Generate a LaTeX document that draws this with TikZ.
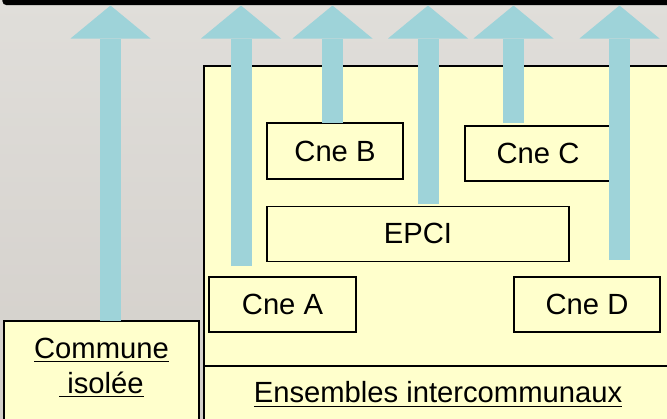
\documentclass[tikz,border=0pt]{standalone}
\usepackage{fontspec}
\setmainfont{Liberation Sans}
\usepackage{xcolor}
\usetikzlibrary{arrows.meta,positioning}
\definecolor{fondhaut}{RGB}{224,222,218}
\definecolor{fondbas}{RGB}{211,207,202}
\definecolor{jaune}{RGB}{255,255,204}
\definecolor{bleuflux}{RGB}{158,211,217}
\newcommand{\souligne}[1]{\vtop{\hbox{#1}\kern1.3pt\hrule height 0.7pt}}

\begin{document}
\begin{tikzpicture}[
    x=0.5pt, y=-0.5pt,
    zone/.style={rectangle, draw=black, line width=0.65pt, fill=jaune, inner sep=0pt, font=\fontsize{14.6}{17.5}\selectfont},
    cne/.style={zone, minimum height=27.5pt},
    fleche/.style={line width=10.5pt, draw=bleuflux, -{Triangle[width=40pt, length=16.5pt, line width=0pt]}}
]

% Fond et bandeau
\useasboundingbox (0,0) rectangle (667,418);
\path[clip] (0,0) rectangle (667,418);
\shade[top color=fondhaut, bottom color=fondbas] (0,0) rectangle (667,418);
\node[fill=black, rounded corners=2pt, minimum width=340pt, minimum height=6pt, inner sep=0pt, anchor=south west] (bandeau) at (2,5.5) {};

% Zones
\node[zone, minimum width=234pt, minimum height=178.5pt] (intercom) at (438,244.5) {};
\node[zone, minimum width=234pt, minimum height=28.5pt] (ensembles) at (438,394.5) {\souligne{Ensembles intercommunaux}};
\node[zone, minimum width=97.5pt, minimum height=50pt, align=center] (commune) at (101.5,371) {\souligne{Commune}\\\souligne{\ isolée}\rule[-5.6pt]{0pt}{5.6pt}};

% Communes et EPCI
\node[cne, minimum width=68pt, minimum height=28pt] (cneb) at (335,151) {Cne B};
\node[cne, minimum width=151pt, below=13pt of cneb.south west, anchor=north west] (epci) {EPCI};
\node[cne, minimum width=73pt] (cnec) at (538,153.5) {Cne C};
\node[cne, minimum width=73.5pt] (cnea) at (282.5,304.5) {Cne A};
\node[cne, minimum width=73pt] (cned) at (587,304.5) {Cne D};

% Departs des fleches
\coordinate (f1) at (110.5,321);
\coordinate (f2) at (241,266);
\coordinate (f3) at (332.5,123);
\coordinate (f4) at (428,204);
\coordinate (f5) at (513.5,123);
\coordinate (f6) at (619.5,260);

% Fleches
\draw[fleche] (f1) -- (f1 |- bandeau.south);
\draw[fleche] (f2) -- (f2 |- bandeau.south);
\draw[fleche] (f3) -- (f3 |- bandeau.south);
\draw[fleche] (f4) -- (f4 |- bandeau.south);
\draw[fleche] (f5) -- (f5 |- bandeau.south);
\draw[fleche] (f6) -- (f6 |- bandeau.south);

\end{tikzpicture}
\end{document}
